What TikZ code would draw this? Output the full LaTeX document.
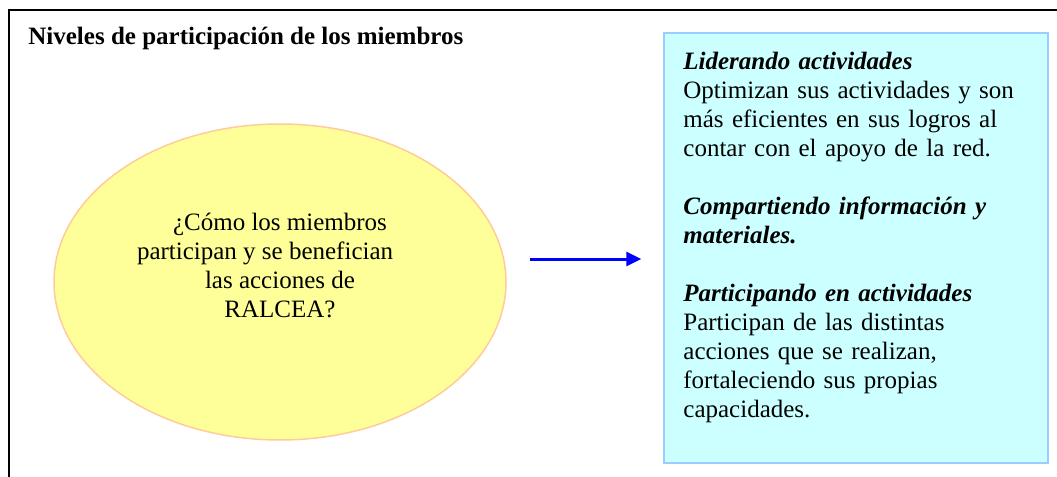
\documentclass[tikz,border=0pt]{standalone}
\usepackage{fontspec}
\setmainfont{Liberation Serif}
\usetikzlibrary{shapes.geometric,arrows.meta}
\definecolor{qfill}{HTML}{FFFF99}
\definecolor{qline}{HTML}{FFCC99}
\definecolor{boxfill}{HTML}{CCFFFF}
\definecolor{boxline}{HTML}{99CCFF}
\begin{document}
\begin{tikzpicture}[x=0.5pt,y=-0.5pt,
    every node/.style={inner sep=0pt,font=\fontsize{12.5}{14.5}\selectfont},
    question/.style={ellipse,draw=qline,fill=qfill,line width=0.75pt,minimum width=226pt,minimum height=158pt},
    levels/.style={rectangle,draw=boxline,fill=boxfill,line width=0.75pt,minimum width=192pt,minimum height=215pt},
    flow/.style={blue,line width=1.5pt,-{Triangle[length=7.5pt,width=7pt]}}]
        \useasboundingbox (0,0) rectangle (1057,477);
        % Frame
        \draw[line width=1pt] (1057,10) -- (8.5,10) -- (8.5,477);
        % Nodes
        \node at (28,44)[anchor=base west,font=\fontsize{12.5}{14.5}\selectfont\bfseries] (title) {Niveles de participación de los miembros};
        \node at (280,282)[question] (q) {};
        \node at (280,265)[align=center] (qtext) {¿Cómo los miembros\\participan y se benefician\phantom{ de}\\las acciones de\\RALCEA?};
        \node at (856,248)[levels] (info) {};
        \node at (683,51.5)[anchor=north west,text width=180pt,align=left] (infotext) {%
            \textbf{\textit{Liderando actividades}}\\
            Optimizan sus actividades y son\\
            más eficientes en sus logros al\\
            contar con el apoyo de la red.\\[14.5pt]
            \textbf{\textit{Compartiendo información y}}\\
            \textbf{\textit{materiales.}}\\[14.5pt]
            \textbf{\textit{Participando en actividades}}\\
            Participan de las distintas\\
            acciones que se realizan,\\
            fortaleciendo sus propias\\
            capacidades.};
        % Arrows
        \draw[flow,shorten <=11.5pt,shorten >=11pt] ([yshift=11.5pt]q.east) -- ([yshift=11.5pt]q.east -| info.west);
    \end{tikzpicture}
\end{document}
